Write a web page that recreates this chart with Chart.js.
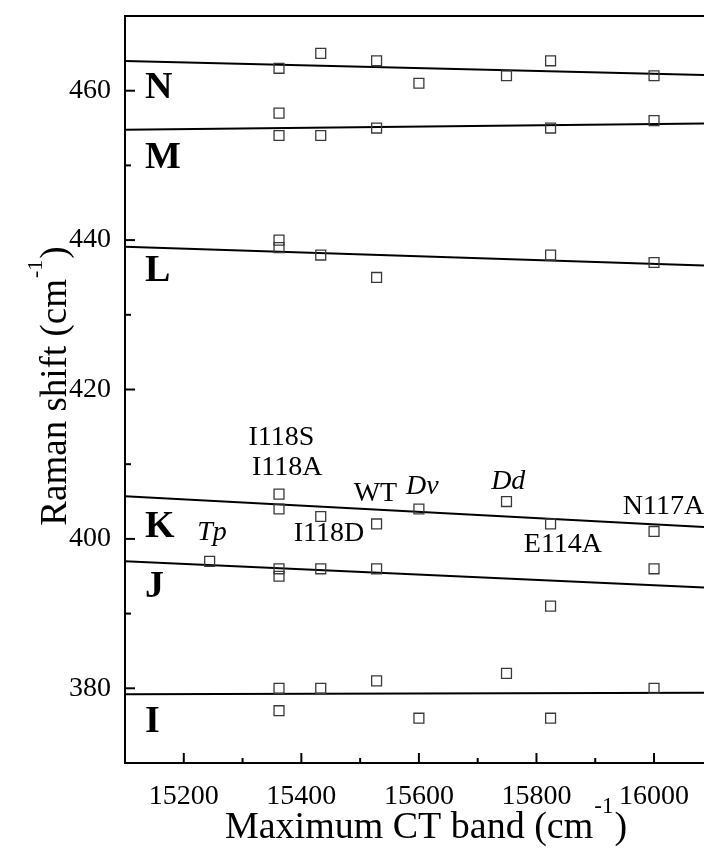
<!DOCTYPE html>
<html>
<head>
<meta charset="utf-8">
<script src="https://cdn.jsdelivr.net/npm/chart.js@4.4.1/dist/chart.umd.min.js"></script>
<style>
    html, body { margin: 0; padding: 0; background: #fff; overflow: hidden; }
    #wrap { width: 704px; height: 859px; }
</style>
</head>
<body>
<div id="wrap"><canvas id="ramanChart" width="704" height="859"></canvas></div>
<script>
// ---- data ----
const bandNX = [15362, 15433, 15528, 15600, 15749, 15824, 16000];
const bandNY = [463, 465, 464, 461, 462, 464, 462];
const bandMX = [15362, 15362, 15433, 15528, 15824, 16000];
const bandMY = [457, 454, 454, 455, 455, 456];
const bandLX = [15362, 15362, 15433, 15528, 15824, 16000];
const bandLY = [440, 439, 438, 435, 438, 437];
const bandKX = [15362, 15362, 15433, 15528, 15600, 15749, 15824, 16000];
const bandKY = [406, 404, 403, 402, 404, 405, 402, 401];
const bandJX = [15244, 15362, 15362, 15433, 15528, 15824, 16000];
const bandJY = [397, 396, 395, 396, 396, 391, 396];
const bandIX = [15362, 15362, 15433, 15528, 15600, 15749, 15824, 16000];
const bandIY = [380, 377, 380, 381, 376, 382, 376, 380];

// linear fits, value at each end of the x range
const fitX = [15100, 16085];
const fitN = [463.96, 462.1];
const fitM = [454.76, 455.6];
const fitL = [439.1, 436.6];
const fitK = [405.7, 401.6];
const fitJ = [397.0, 393.5];
const fitI = [379.2, 379.4];

// band letters
const bandNames = ["N", "M", "L", "K", "J", "I"];
const bandLabelY = [460.4, 451.0, 435.8, 401.6, 393.6, 375.4];
const bandLabelX = 15134;

// sample names next to the K / J points
const sampleNames = ["I118S", "I118A", "WT", "Dv", "Dd", "N117A", "Tp", "I118D", "E114A"];
const sampleX = [15366, 15376, 15526, 15606, 15752, 16016, 15248, 15447, 15845];
const sampleY = [413.6, 409.5, 406.1, 407.0, 407.7, 404.3, 400.8, 400.7, 399.2];
const sampleItalic = [false, false, false, true, true, false, true, false, false];

const xTickLabels = [15200, 15400, 15600, 15800, 16000];
const yTickLabels = [380, 400, 420, 440, 460];

const SERIF = "'Liberation Serif', 'Times New Roman', serif";
const MARK = "#3a3a3a";

function toPoints(xs, ys) {
    return xs.map((x, i) => ({ x: x, y: ys[i] }));
}

function pointSet(xs, ys) {
    return {
        data: toPoints(xs, ys),
        pointStyle: "rect",
        pointRadius: 7,
        pointHoverRadius: 7,
        borderColor: MARK,
        backgroundColor: "rgba(0,0,0,0)",
        borderWidth: 1.3,
        showLine: false,
    };
}

function fitSet(ys) {
    return {
        data: toPoints(fitX, ys),
        showLine: true,
        borderColor: "#000",
        borderWidth: 2,
        pointRadius: 0,
        fill: false,
    };
}

function drawSupText(ctx, main, sup, tail, cx, baseline, size) {
    const big = size + "px " + SERIF;
    const small = Math.round(size * 0.6) + "px " + SERIF;
    ctx.font = big;
    const w1 = ctx.measureText(main).width;
    const w3 = ctx.measureText(tail).width;
    ctx.font = small;
    const w2 = ctx.measureText(sup).width;
    let x = cx - (w1 + w2 + w3 + 2) / 2;
    ctx.textAlign = "left";
    ctx.textBaseline = "alphabetic";
    ctx.font = big;
    ctx.fillText(main, x, baseline);
    x += w1 + 1;
    ctx.font = small;
    ctx.fillText(sup, x, baseline - size * 0.66);
    x += w2 + 1;
    ctx.font = big;
    ctx.fillText(tail, x, baseline);
}

const decorations = {
    id: "decorations",
    afterDraw(chart) {
        const { ctx, chartArea: a, scales: { x, y } } = chart;
        ctx.save();
        ctx.strokeStyle = "#000";
        ctx.lineWidth = 2;

        // top frame line
        ctx.beginPath();
        ctx.moveTo(a.left, a.top);
        ctx.lineTo(a.right, a.top);
        ctx.stroke();

        // inward tick marks
        x.ticks.forEach((t) => {
            const v = Math.round(t.value);
            if (v <= x.min || v >= x.max) return;
            const px = x.getPixelForValue(v);
            const len = xTickLabels.includes(v) ? 10 : 5;
            ctx.beginPath();
            ctx.moveTo(px, a.bottom);
            ctx.lineTo(px, a.bottom - len);
            ctx.stroke();
        });
        y.ticks.forEach((t) => {
            const v = Math.round(t.value);
            if (v <= y.min || v >= y.max) return;
            const py = y.getPixelForValue(v);
            const len = yTickLabels.includes(v) ? 10 : 6;
            ctx.beginPath();
            ctx.moveTo(a.left, py);
            ctx.lineTo(a.left + len, py);
            ctx.stroke();
        });

        ctx.fillStyle = "#000";

        // band letters
        ctx.font = "bold 38px " + SERIF;
        ctx.textAlign = "left";
        ctx.textBaseline = "middle";
        bandNames.forEach((name, i) => {
            ctx.fillText(name, x.getPixelForValue(bandLabelX), y.getPixelForValue(bandLabelY[i]));
        });

        // sample names
        ctx.textAlign = "center";
        sampleNames.forEach((name, i) => {
            ctx.font = (sampleItalic[i] ? "italic " : "") + "28px " + SERIF;
            ctx.fillText(name, x.getPixelForValue(sampleX[i]), y.getPixelForValue(sampleY[i]));
        });

        // axis titles
        drawSupText(ctx, "Maximum CT band (cm", "-1", ")", 426, 838, 38);
        ctx.translate(66, 386);
        ctx.rotate(-Math.PI / 2);
        drawSupText(ctx, "Raman shift (cm", "-1", ")", 0, 0, 37);

        ctx.restore();
    },
};

new Chart(document.getElementById("ramanChart"), {
    type: "scatter",
    data: {
        datasets: [
            pointSet(bandNX, bandNY),
            pointSet(bandMX, bandMY),
            pointSet(bandLX, bandLY),
            pointSet(bandKX, bandKY),
            pointSet(bandJX, bandJY),
            pointSet(bandIX, bandIY),
            fitSet(fitN),
            fitSet(fitM),
            fitSet(fitL),
            fitSet(fitK),
            fitSet(fitJ),
            fitSet(fitI),
        ],
    },
    options: {
        responsive: false,
        animation: false,
        layout: { autoPadding: false, padding: { top: 16, right: 0, bottom: 0, left: 0 } },
        plugins: { legend: { display: false }, tooltip: { enabled: false } },
        scales: {
            x: {
                type: "linear",
                min: 15100,
                max: 16085,
                afterFit: (scale) => {
                    scale.height = 96;
                    scale.paddingLeft = 0;
                    scale.paddingRight = 0;
                },
                grid: { drawOnChartArea: false, drawTicks: false },
                border: { color: "#000", width: 2 },
                ticks: {
                    stepSize: 100,
                    includeBounds: false,
                    autoSkip: false,
                    maxRotation: 0,
                    padding: 17,
                    color: "#000",
                    font: { family: SERIF, size: 28 },
                    callback: (v) => (xTickLabels.includes(Math.round(v)) ? String(Math.round(v)) : ""),
                },
            },
            y: {
                type: "linear",
                min: 370,
                max: 470,
                afterFit: (scale) => {
                    scale.width = 125;
                    scale.paddingTop = 0;
                    scale.paddingBottom = 0;
                },
                grid: { drawOnChartArea: false, drawTicks: false },
                border: { color: "#000", width: 2 },
                ticks: {
                    stepSize: 10,
                    autoSkip: false,
                    padding: 14,
                    color: "#000",
                    font: { family: SERIF, size: 28 },
                    callback: (v) => (yTickLabels.includes(Math.round(v)) ? String(Math.round(v)) : ""),
                },
            },
        },
    },
    plugins: [decorations],
});
</script>
</body>
</html>
